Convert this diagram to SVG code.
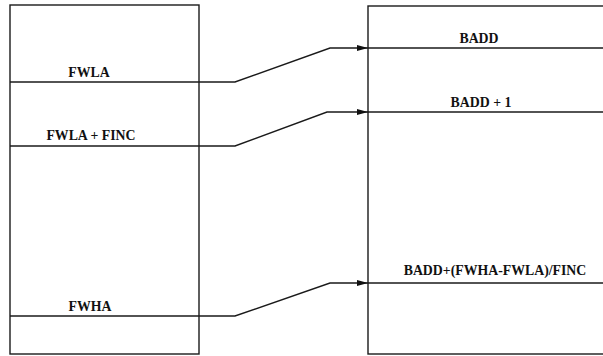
<svg xmlns="http://www.w3.org/2000/svg" width="603" height="356" viewBox="0 0 603 356">
<style>
.ln{fill:none;stroke:#1a1a1a;stroke-width:1.4}
.t{font-family:"Liberation Serif",serif;font-size:13.8px;font-weight:bold;fill:#111;text-anchor:middle}
</style>
<defs>
<marker id="ah" markerWidth="12" markerHeight="8" refX="11" refY="4" orient="auto" markerUnits="userSpaceOnUse">
<path d="M0,1 L11,4 L0,7 Z" fill="#111"/>
</marker>
</defs>
<rect width="603" height="356" fill="#fff"/>
<g id="left">
<rect class="ln" x="10" y="5" width="189" height="349"/>
<line class="ln" x1="10" y1="82" x2="199" y2="82"/>
<line class="ln" x1="10" y1="146" x2="199" y2="146"/>
<line class="ln" x1="10" y1="316" x2="199" y2="316"/>
<text class="t" x="89" y="77">FWLA</text>
<text class="t" x="91" y="140">FWLA + FINC</text>
<text class="t" x="90" y="311">FWHA</text>
</g>
<g id="right">
<rect class="ln" x="368" y="6" width="250" height="348"/>
<line class="ln" x1="368" y1="48" x2="603" y2="48"/>
<line class="ln" x1="368" y1="112" x2="603" y2="112"/>
<line class="ln" x1="368" y1="283" x2="603" y2="283"/>
<text class="t" x="479" y="43">BADD</text>
<text class="t" x="481" y="107">BADD + 1</text>
<text class="t" x="495" y="275">BADD+(FWHA-FWLA)/FINC</text>
</g>
<g id="connectors">
<polyline class="ln" points="199,82 235,82 330,48 368,48" marker-end="url(#ah)"/>
<polyline class="ln" points="199,146 235,146 327,112 368,112" marker-end="url(#ah)"/>
<polyline class="ln" points="199,316 235,316 330,283 368,283" marker-end="url(#ah)"/>
</g>
</svg>
